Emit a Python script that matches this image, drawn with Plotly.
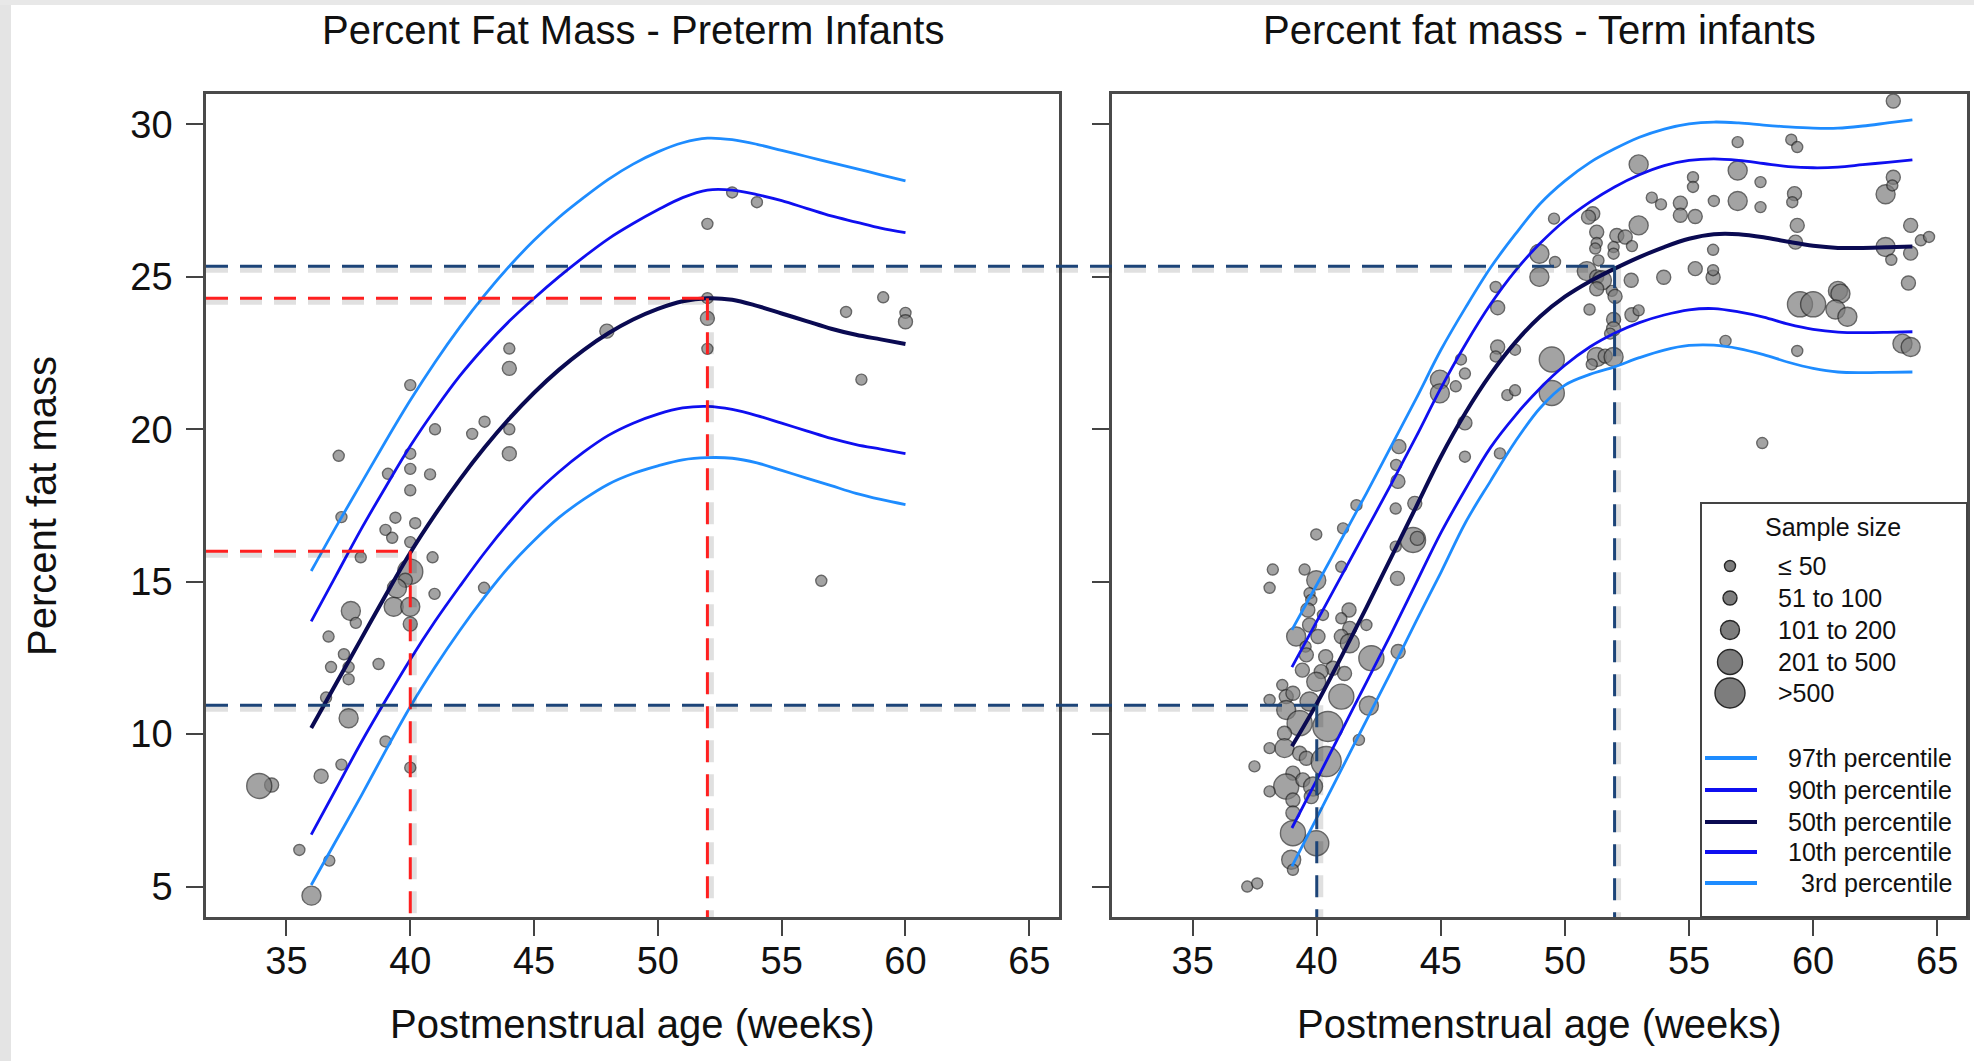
import plotly.graph_objects as go

# ---------------- data ----------------
sample_labels = ["\u2264 50", "51 to 100", "101 to 200", "201 to 500", ">500"]
percentile_labels = ["97th percentile", "90th percentile", "50th percentile", "10th percentile", "3rd percentile"]

# Preterm infants: observed study means (x = PMA weeks, y = % fat mass, n = sample-size class 1..5)
pre_x = [37.11, 40.0, 41.0, 42.5, 43.0, 44.0, 44.0, 44.0, 44.0, 39.1, 40.0, 40.0, 40.0, 40.8,
         37.22, 39.4, 40.2, 39.0, 39.27, 40.0, 38.0, 40.9, 40.0, 39.8, 39.46, 39.33, 40.0, 40.0,
         40.98, 37.6, 37.8, 36.7, 37.32, 36.8, 37.51, 38.72, 37.51, 36.6, 37.51, 39.0, 37.22,
         36.4, 40.0, 34.4, 33.9, 35.52, 36.73, 36.01, 42.98, 47.94, 52.0, 53.0, 54.0, 52.0,
         52.0, 52.0, 57.6, 59.1, 60.0, 60.0, 58.22, 56.6]
pre_y = [19.13, 21.45, 20.0, 19.85, 20.25, 22.65, 22.0, 20.0, 19.2, 18.54, 19.2, 18.7, 18.0, 18.52,
         17.12, 17.1, 16.92, 16.7, 16.44, 16.3, 15.8, 15.8, 15.33, 15.05, 14.78, 14.18, 14.18, 13.61,
         14.6, 14.04, 13.65, 13.2, 12.62, 12.2, 12.2, 12.3, 11.8, 11.2, 10.52, 9.76, 9.0,
         8.62, 8.9, 8.33, 8.3, 6.2, 5.85, 4.7, 14.8, 23.22, 26.74, 27.77, 27.45, 24.3,
         23.64, 22.64, 23.85, 24.33, 23.82, 23.53, 21.63, 15.03]
pre_n = [1, 1, 1, 1, 1, 1, 2, 1, 2, 1, 1, 1, 1, 1,
         1, 1, 1, 1, 1, 1, 1, 1, 4, 2, 3, 3, 3, 2,
         1, 3, 1, 1, 1, 1, 1, 1, 1, 1, 3, 1, 1,
         2, 1, 2, 4, 1, 1, 3, 1, 2, 1, 1, 1, 1,
         2, 1, 1, 1, 1, 2, 1, 1]

# Term infants
term_x = [43.31, 43.2, 43.27, 44.96, 44.96, 41.6, 41.06, 39.98, 43.18, 43.95, 43.88, 44.05, 43.18, 43.25,
          38.23, 38.1, 39.51, 39.98, 40.99, 39.71, 39.78, 39.64, 40.25, 39.71, 39.17, 40.05, 39.55,
          41.3, 40.99, 41.33, 42.0, 40.99, 41.33, 42.2, 43.28, 40.36, 39.58, 39.42, 40.65, 41.12,
          40.18, 39.98, 40.99, 38.61, 38.1, 38.77, 39.04, 39.71, 42.1, 38.77, 39.31, 40.45, 38.7,
          38.1, 38.7, 39.31, 39.58, 40.38, 41.7, 37.49, 39.04, 38.77, 39.44, 39.85, 38.1, 39.04,
          39.78, 39.04, 39.04, 39.98, 38.97, 39.04, 37.2, 37.6,
          63.23, 56.96, 59.12, 59.36, 52.97, 56.96, 63.23, 62.92, 63.19, 55.16, 55.16, 57.88, 53.5,
          53.87, 54.65, 54.65, 55.25, 56.0, 56.96, 57.88, 59.25, 59.16, 59.36, 59.29, 63.93, 64.34,
          64.67, 62.92, 63.93, 63.15, 63.84, 49.56, 51.12, 50.95, 51.28, 51.28, 51.22, 51.35, 52.09,
          51.96, 51.96, 52.43, 52.7, 52.97, 48.97, 49.6, 48.97, 50.88, 51.28, 51.49, 51.28, 51.89,
          52.02, 52.67, 53.98, 55.25, 55.97, 55.97, 55.97, 47.21, 47.29, 50.99, 52.7, 52.97, 51.96,
          51.96, 51.82, 59.47, 60.0, 61.0, 61.1, 60.9, 61.38, 63.6, 63.93, 56.47, 59.36, 57.95,
          49.47, 49.47, 51.28, 51.62, 51.96, 51.08, 47.29, 47.21, 47.99, 45.81, 45.97, 45.6, 47.68,
          47.99, 45.97, 45.97, 47.38]
term_y = [19.43, 18.83, 18.29, 21.63, 21.18, 17.51, 16.75, 16.55, 17.4, 17.57, 16.37, 16.42, 16.15, 15.11,
          15.4, 14.8, 15.4, 15.05, 15.49, 14.62, 14.4, 14.07, 13.91, 13.58, 13.2, 13.2, 12.87,
          14.07, 13.8, 13.47, 13.58, 13.2, 12.98, 12.49, 12.71, 12.54, 12.6, 12.1, 12.16, 11.99,
          12.05, 11.72, 11.23, 11.61, 11.12, 11.23, 11.34, 11.07, 10.93, 10.79, 10.36, 10.25, 10.03,
          9.54, 9.54, 9.37, 9.21, 9.1, 9.81, 8.94, 8.72, 8.28, 8.5, 8.28, 8.12, 7.84,
          7.95, 7.41, 6.75, 6.42, 5.88, 5.55, 5.0, 5.1,
          30.77, 29.42, 29.5, 29.26, 28.69, 28.49, 28.27, 27.71, 28.0, 28.27, 27.95, 28.11, 27.6,
          27.38, 27.42, 27.02, 26.98, 27.49, 27.49, 27.29, 27.73, 27.45, 26.69, 26.14, 26.69, 26.2,
          26.31, 25.98, 25.78, 25.56, 24.8, 26.91, 27.07, 26.96, 26.47, 26.11, 25.93, 25.54, 26.36,
          25.98, 25.76, 26.31, 26.01, 26.69, 25.76, 25.49, 25.0, 25.19, 25.0, 24.89, 24.61, 24.54,
          24.36, 24.89, 24.99, 25.27, 24.99, 25.22, 25.89, 24.67, 23.99, 23.93, 23.76, 23.9, 23.6,
          23.3, 23.14, 24.1, 24.1, 24.54, 24.45, 23.93, 23.69, 22.81, 22.7, 22.9, 22.57, 19.55,
          22.29, 21.19, 22.37, 22.4, 22.37, 22.13, 22.7, 22.39, 22.61, 22.29, 21.83, 21.41, 21.12,
          21.28, 20.21, 19.1, 19.21]
term_n = [2, 1, 2, 3, 3, 1, 1, 1, 1, 2, 4, 2, 1, 2,
          1, 1, 1, 3, 1, 1, 1, 2, 1, 2, 3, 2, 1,
          2, 1, 2, 1, 2, 3, 4, 2, 2, 2, 2, 2, 2,
          2, 3, 4, 1, 1, 2, 2, 3, 3, 3, 4, 5, 2,
          1, 3, 2, 2, 5, 1, 1, 2, 4, 2, 3, 1, 2,
          2, 2, 4, 4, 3, 1, 1, 1,
          2, 1, 1, 1, 3, 3, 2, 3, 1, 1, 1, 1, 1,
          1, 2, 2, 2, 1, 3, 1, 2, 1, 2, 2, 2, 1,
          1, 3, 2, 1, 2, 1, 2, 2, 2, 1, 1, 1, 2,
          1, 1, 2, 1, 3, 3, 1, 3, 3, 2, 3, 2, 1,
          2, 2, 2, 2, 2, 1, 1, 1, 2, 1, 2, 1, 2,
          2, 1, 4, 4, 3, 3, 3, 3, 3, 3, 1, 1, 1,
          4, 4, 3, 2, 3, 1, 2, 1, 1, 1, 1, 1, 1,
          1, 2, 1, 1]

# Fitted percentile curves, preterm
pre_age = [36, 37, 38, 39, 40, 41, 42, 43, 44, 45, 46, 47, 48, 49, 50, 51, 52, 53, 54, 55, 56, 57, 58, 59, 60]
pre_p97 = [15.35, 16.8, 18.2, 19.6, 20.95, 22.2, 23.35, 24.4, 25.35, 26.2, 26.95, 27.6, 28.2, 28.7, 29.1,
           29.4, 29.55, 29.5, 29.35, 29.15, 28.95, 28.75, 28.55, 28.35, 28.15]
pre_p90 = [13.7, 15.2, 16.7, 18.1, 19.45, 20.65, 21.75, 22.7, 23.55, 24.3, 25.0, 25.65, 26.25, 26.75, 27.2,
           27.6, 27.85, 27.85, 27.7, 27.5, 27.25, 27.0, 26.8, 26.6, 26.45]
pre_p50 = [10.2, 11.65, 13.1, 14.55, 15.95, 17.2, 18.35, 19.4, 20.35, 21.2, 21.95, 22.6, 23.15, 23.6, 23.95,
           24.2, 24.3, 24.25, 24.05, 23.8, 23.55, 23.3, 23.1, 22.95, 22.8]
pre_p10 = [6.7, 8.2, 9.7, 11.1, 12.45, 13.7, 14.85, 15.95, 16.95, 17.85, 18.6, 19.25, 19.8, 20.2, 20.5,
           20.7, 20.75, 20.65, 20.45, 20.2, 19.95, 19.7, 19.5, 19.35, 19.2]
pre_p03 = [5.05, 6.5, 7.95, 9.45, 10.9, 12.2, 13.4, 14.5, 15.5, 16.35, 17.1, 17.7, 18.2, 18.55, 18.8,
           19.0, 19.07, 19.05, 18.9, 18.65, 18.4, 18.15, 17.9, 17.7, 17.53]

# Fitted percentile curves, term
term_age = [39, 40, 41, 42, 43, 44, 45, 46, 47, 48, 49, 50, 51, 52, 53, 54, 55, 56, 57, 58, 59, 60, 61, 62, 63, 64]
term_p97 = [13.42, 14.9, 16.4, 17.9, 19.45, 21.0, 22.6, 24.0, 25.3, 26.4, 27.4, 28.15, 28.75, 29.2, 29.58,
            29.85, 30.02, 30.08, 30.05, 29.98, 29.92, 29.88, 29.88, 29.95, 30.05, 30.15]
term_p90 = [12.2, 13.7, 15.2, 16.7, 18.2, 19.75, 21.35, 22.8, 24.1, 25.2, 26.1, 26.85, 27.45, 27.95, 28.35,
            28.65, 28.82, 28.87, 28.82, 28.72, 28.62, 28.58, 28.6, 28.68, 28.76, 28.84]
term_p50 = [9.6, 11.0, 12.55, 14.15, 15.8, 17.45, 19.1, 20.55, 21.8, 22.85, 23.7, 24.35, 24.85, 25.27, 25.65,
            25.98, 26.25, 26.4, 26.4, 26.3, 26.15, 26.02, 25.95, 25.95, 25.97, 26.0]
term_p10 = [6.92, 8.5, 10.1, 11.7, 13.3, 14.95, 16.6, 18.05, 19.4, 20.45, 21.35, 22.1, 22.7, 23.15, 23.5,
            23.75, 23.92, 23.96, 23.85, 23.68, 23.45, 23.28, 23.19, 23.17, 23.18, 23.2]
term_p03 = [5.66, 7.25, 8.85, 10.45, 12.05, 13.7, 15.3, 16.95, 18.3, 19.6, 20.7, 21.45, 21.8, 22.05, 22.35,
            22.6, 22.75, 22.76, 22.65, 22.45, 22.2, 22.0, 21.88, 21.86, 21.87, 21.88]

# reference readings (red: preterm, blue: term)
ref_weeks = [40, 52]
pre_ref_fat = [16.0, 24.3]
term_ref_fat = [10.95, 25.35]

x_ticks = [35, 40, 45, 50, 55, 60, 65]
y_ticks = [5, 10, 15, 20, 25, 30]

# ---------------- styles ----------------
W, H = 1974, 1061
L, R, T, B = 206, 7, 94, 144
PW, PH = W - L - R, H - T - B
FONT = "Liberation Sans, Arial, sans-serif"
SIZES = [11, 14, 19, 25, 30]
C_LIGHT, C_BLUE, C_NAVY = "#1e8cff", "#0f0ff0", "#0a0a52"
CURVE_COL = [C_LIGHT, C_BLUE, C_NAVY, C_BLUE, C_LIGHT]
CURVE_W = [2.8, 2.8, 4, 2.8, 2.8]
RED, DBLUE = "#ff1f1f", "#1c4478"
SHADOW = "rgba(0,0,0,0.12)"
XR, YR = [31.75, 66.2], [4.0, 31.0]


def px_x(p):
    return (p - L) / PW


def px_y(p):
    return 1 - (p - T) / PH


DOM1 = [0, px_x(1059)]
DOM2 = [px_x(1112), 1]
DY = 3.0 * (YR[1] - YR[0]) / PH          # 3px shadow offset in data units
DX = 3.0 * (XR[1] - XR[0]) / (1059 - 206)


def paper_from_x2(v):
    return DOM2[0] + (v - XR[0]) / (XR[1] - XR[0]) * (DOM2[1] - DOM2[0])


fig = go.Figure()

for xs, ys, ns, xa, ya in [(pre_x, pre_y, pre_n, "x", "y"), (term_x, term_y, term_n, "x2", "y2")]:
    fig.add_trace(go.Scatter(
        x=xs, y=ys, mode="markers", xaxis=xa, yaxis=ya, showlegend=False, hoverinfo="x+y",
        marker=dict(size=[SIZES[n - 1] for n in ns], color="#7d7d7d",
                    line=dict(color="#262626", width=1.4))))

for ages, curves, xa, ya in [(pre_age, [pre_p97, pre_p90, pre_p50, pre_p10, pre_p03], "x", "y"),
                             (term_age, [term_p97, term_p90, term_p50, term_p10, term_p03], "x2", "y2")]:
    for i, c in enumerate(curves):
        fig.add_trace(go.Scatter(
            x=ages, y=c, mode="lines", xaxis=xa, yaxis=ya, showlegend=False,
            name=percentile_labels[i],
            line=dict(color=CURVE_COL[i], width=CURVE_W[i], shape="spline", smoothing=1.0)))

shapes = []
dash = "22px,12px"


def dashed(color, xref, yref, x0, x1, y0, y1, sx, sy):
    shapes.append(dict(type="line", xref=xref, yref=yref, x0=x0 + sx, x1=x1 + sx, y0=y0 - sy, y1=y1 - sy,
                       line=dict(color=SHADOW, width=7, dash=dash)))
    shapes.append(dict(type="line", xref=xref, yref=yref, x0=x0, x1=x1, y0=y0, y1=y1,
                       line=dict(color=color, width=3, dash=dash)))


# red reference lines (preterm)
for wk, fat in zip(ref_weeks, pre_ref_fat):
    dashed(RED, "x", "y", XR[0], wk, fat, fat, 0, DY)
    dashed(RED, "x", "y", wk, wk, fat, YR[0], DX, 0)
# blue reference lines (term), spanning from left panel into the right one
for wk, fat in zip(ref_weeks, term_ref_fat):
    dashed(DBLUE, "paper", "y", 0, paper_from_x2(wk), fat, fat, 0, DY)
    dashed(DBLUE, "x2", "y2", wk, wk, fat, YR[0], DX, 0)

# legend box
shapes.append(dict(type="rect", xref="paper", yref="paper", x0=px_x(1701), x1=px_x(1967),
                   y0=px_y(917), y1=px_y(503), fillcolor="white", line=dict(color="#444", width=2)))
rows_c = [566, 598, 630, 662, 693]
for i, yy in enumerate(rows_c):
    r = SIZES[i] / 2
    shapes.append(dict(type="circle", xref="paper", yref="paper", xsizemode="pixel", ysizemode="pixel",
                       xanchor=px_x(1730), yanchor=px_y(yy), x0=-r, x1=r, y0=-r, y1=r,
                       fillcolor="#7d7d7d", line=dict(color="#262626", width=1.4)))
rows_l = [758, 790, 822, 852, 883]
for i, yy in enumerate(rows_l):
    shapes.append(dict(type="line", xref="paper", yref="paper", x0=px_x(1705), x1=px_x(1757),
                       y0=px_y(yy), y1=px_y(yy), line=dict(color=CURVE_COL[i], width=4)))

# screenshot frame strips
shapes.append(dict(type="rect", xref="paper", yref="paper", x0=px_x(0), x1=px_x(11), y0=px_y(H), y1=px_y(0),
                   fillcolor="#e4e4e4", line=dict(width=0)))
shapes.append(dict(type="rect", xref="paper", yref="paper", x0=px_x(0), x1=px_x(W), y0=px_y(5), y1=px_y(0),
                   fillcolor="#e8e8e8", line=dict(width=0)))

ann = []


def add_text(text, xp, yp, size, xanchor="center", angle=0):
    ann.append(dict(text=text, xref="paper", yref="paper", x=px_x(xp), y=px_y(yp),
                    xanchor=xanchor, yanchor="middle", textangle=angle, showarrow=False,
                    font=dict(size=size)))


add_text("Percent Fat Mass - Preterm Infants", (206 + 1059) / 2, 30, 40)
add_text("Percent fat mass - Term infants", (1112 + 1967) / 2, 30, 40)
add_text("Postmenstrual age (weeks)", (206 + 1059) / 2, 1024, 40)
add_text("Postmenstrual age (weeks)", (1112 + 1967) / 2, 1024, 40)
add_text("Percent fat mass", 42, 506, 40, angle=-90)
add_text("Sample size", 1833, 527, 25)
for i, yy in enumerate(rows_c):
    add_text(sample_labels[i], 1776, yy, 25, xanchor="left")
for i, yy in enumerate(rows_l):
    add_text(percentile_labels[i], 1954, yy, 25, xanchor="right")

axis_common = dict(range=XR, tickvals=x_ticks, ticks="outside", ticklen=16, tickwidth=2, tickcolor="#444",
                   showline=True, mirror=True, linecolor="#4a4a4a", linewidth=2.5, showgrid=False,
                   zeroline=False, tickfont=dict(size=38), ticklabelstandoff=-7, fixedrange=True)
yaxis_common = dict(range=YR, tickvals=y_ticks, ticks="outside", ticklen=17, tickwidth=2, tickcolor="#444",
                    showline=True, mirror=True, linecolor="#4a4a4a", linewidth=2.5, showgrid=False,
                    zeroline=False, tickfont=dict(size=38), ticklabelstandoff=6, fixedrange=True)

fig.update_layout(
    width=W, height=H, margin=dict(l=L, r=R, t=T, b=B, autoexpand=False),
    paper_bgcolor="white", plot_bgcolor="white",
    font=dict(family=FONT, color="#111"),
    xaxis=dict(domain=DOM1, anchor="y", **axis_common),
    yaxis=dict(anchor="x", **yaxis_common),
    xaxis2=dict(domain=DOM2, anchor="y2", **axis_common),
    yaxis2=dict(anchor="x2", showticklabels=False, **yaxis_common),
    shapes=shapes, annotations=ann, showlegend=False,
)

fig.write_html("out.html")
